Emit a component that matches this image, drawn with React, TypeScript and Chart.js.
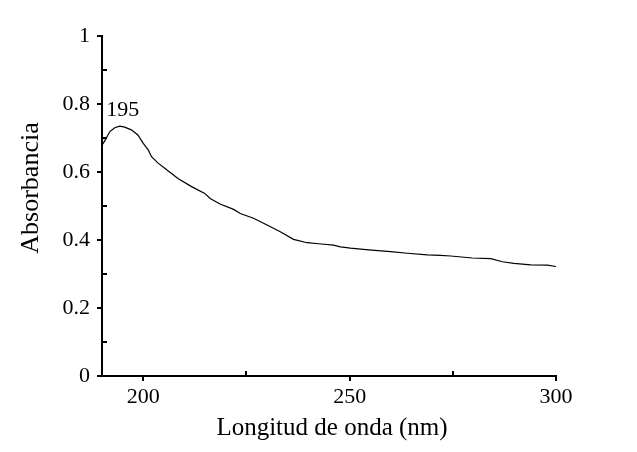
import React, { useEffect, useRef } from "react";
import { Chart, registerables } from "chart.js";

Chart.register(...registerables);

const wavelengths = [190, 190.6, 191.9, 193.1, 194.3, 195.5, 197.1, 198.7, 200, 201.2, 202, 203.6, 205.2, 208.4, 211.7, 214.9, 216.2, 218.6, 221.9, 223.5, 226.7, 230, 233.2, 236.4, 239.7, 242.5, 246.1, 247.8, 250.2, 254.6, 259.9, 264, 268.8, 272, 274.5, 279.7, 284.2, 287, 289.8, 293.9, 297.9, 300];
const absorbance = [0.679, 0.69, 0.719, 0.73, 0.735, 0.732, 0.724, 0.709, 0.684, 0.665, 0.645, 0.626, 0.611, 0.581, 0.557, 0.537, 0.522, 0.506, 0.49, 0.478, 0.464, 0.444, 0.424, 0.402, 0.392, 0.389, 0.385, 0.38, 0.376, 0.371, 0.366, 0.361, 0.356, 0.355, 0.353, 0.347, 0.345, 0.336, 0.331, 0.327, 0.326, 0.322];
const peakWavelength = 195;
const peakValue = 0.735;
const peakLabel = "195";
const xMajorTicks = [200, 250, 300];
const xMinorTicks = [225, 275];
const yMajorTicks = [0, 0.2, 0.4, 0.6, 0.8, 1];
const yMinorTicks = [0.1, 0.3, 0.5, 0.7, 0.9];
const xTitle = "Longitud de onda (nm)";
const yTitle = "Absorbancia";

const FONT = "'Liberation Serif', 'Times New Roman', serif";

export default function App() {
  const ref = useRef<HTMLCanvasElement | null>(null);
  useEffect(() => {
    if (!ref.current) return;
    const decor = {
      id: "decor",
      afterDraw(chart: any) {
        const ctx = chart.ctx;
        const xs = chart.scales.x;
        const ys = chart.scales.y;
        const area = chart.chartArea;
        ctx.save();
        ctx.strokeStyle = "#000";
        ctx.lineWidth = 2;
        const L = 5;
        ctx.beginPath();
        xMajorTicks.forEach((v) => {
          const px = Math.round(xs.getPixelForValue(v));
          ctx.moveTo(px, area.bottom);
          ctx.lineTo(px, area.bottom + L);
        });
        xMinorTicks.forEach((v) => {
          const px = Math.round(xs.getPixelForValue(v));
          ctx.moveTo(px, area.bottom);
          ctx.lineTo(px, area.bottom - L);
        });
        yMajorTicks.forEach((v) => {
          const py = Math.round(ys.getPixelForValue(v));
          ctx.moveTo(area.left, py);
          ctx.lineTo(area.left - L, py);
        });
        yMinorTicks.forEach((v) => {
          const py = Math.round(ys.getPixelForValue(v));
          ctx.moveTo(area.left, py);
          ctx.lineTo(area.left + L, py);
        });
        ctx.stroke();

        ctx.fillStyle = "#000";
        ctx.font = `22px ${FONT}`;
        ctx.textAlign = "center";
        ctx.textBaseline = "middle";
        ctx.fillText(peakLabel, xs.getPixelForValue(peakWavelength), ys.getPixelForValue(peakValue) - 16);

        ctx.font = `25px ${FONT}`;
        ctx.fillText(xTitle, (area.left + area.right) / 2 + 3, 428);
        ctx.font = `26px ${FONT}`;
        ctx.translate(31, 188);
        ctx.rotate(-Math.PI / 2);
        ctx.fillText(yTitle, 0, 0);
        ctx.restore();
      },
    };
    const chart = new Chart(ref.current, {
      type: "line",
      data: {
        datasets: [
          {
            data: wavelengths.map((w, i) => ({ x: w, y: absorbance[i] })),
            borderColor: "#000",
            borderWidth: 1.2,
            pointRadius: 0,
            tension: 0,
            fill: false,
          },
        ],
      },
      options: {
        animation: false,
        responsive: false,
        layout: { padding: { left: 0, top: 36, right: 81, bottom: 0 } },
        plugins: { legend: { display: false }, tooltip: { enabled: false } },
        scales: {
          x: {
            type: "linear",
            min: 190,
            max: 300,
            afterBuildTicks: (s: any) => {
              s.ticks = xMajorTicks.map((v) => ({ value: v }));
            },
            afterFit: (s: any) => {
              s.height = 76;
            },
            grid: { display: false, drawTicks: false },
            border: { display: true, color: "#000", width: 2 },
            ticks: {
              padding: 8,
              color: "#000",
              autoSkip: false,
              font: { family: FONT, size: 22 },
              maxRotation: 0,
              callback: (v: any) => String(v),
            },
          },
          y: {
            min: 0,
            max: 1,
            afterBuildTicks: (s: any) => {
              s.ticks = yMajorTicks.map((v) => ({ value: v }));
            },
            afterFit: (s: any) => {
              s.width = 102;
            },
            grid: { display: false, drawTicks: false },
            border: { display: true, color: "#000", width: 2 },
            ticks: {
              padding: 12,
              color: "#000",
              autoSkip: false,
              font: { family: FONT, size: 22 },
              callback: (v: any) => String(Math.round(Number(v) * 10) / 10),
            },
          },
        },
      },
      plugins: [decor],
    });
    return () => chart.destroy();
  }, []);
  return (
    <div style={{ position: "absolute", left: 0, top: 0, width: 637, height: 452, background: "#fff" }}>
      <canvas ref={ref} width={637} height={452} style={{ display: "block" }} />
    </div>
  );
}
